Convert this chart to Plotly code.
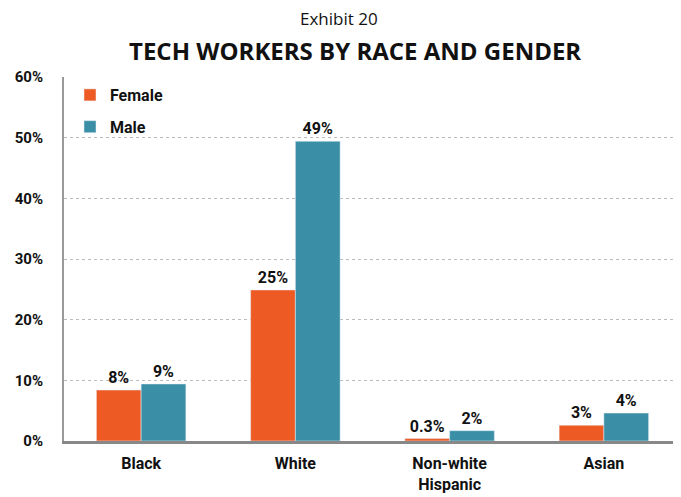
import plotly.graph_objects as go

categories = ["Black", "White", "Non-white<br>Hispanic", "Asian"]
female = [8.4, 24.9, 0.4, 2.6]
male = [9.4, 49.4, 1.7, 4.6]
female_labels = ["8%", "25%", "0.3%", "3%"]
male_labels = ["9%", "49%", "2%", "4%"]
y_ticks = [0, 10, 20, 30, 40, 50, 60]
y_tick_labels = ["0%", "10%", "20%", "30%", "40%", "50%", "60%"]

FONT = "Liberation Sans Narrow, Arial Narrow, Roboto, sans-serif"
OFF = 8  # page body margin
W, H = 681 - OFF, 497 - OFF
L, R, T, B = 64 - OFF, 0, 77 - OFF, 56

fig = go.Figure()
fig.add_trace(go.Bar(name="<b>Female</b>", x=categories, y=female, text=female_labels,
                     textposition="outside", marker_color="#EE5A24", legendgroup="f",
                     textfont=dict(family=FONT, size=16, color="#111"),
                     cliponaxis=False))
fig.add_trace(go.Bar(name="<b>Male</b>", x=categories, y=male, text=male_labels,
                     textposition="outside", marker_color="#3A8FA6", legendgroup="m",
                     textfont=dict(family=FONT, size=16, color="#111"),
                     cliponaxis=False))
fig.update_traces(texttemplate="<b>%{text}</b>")

plot_h = H - T - B
plot_w = W - L - R
def py(ypx):
    # ypx given in window pixels
    return (H - B - (ypx - OFF)) / plot_h
def px(xpx):
    return ((xpx - OFF) - L) / plot_w

fig.update_layout(
    width=W, height=H,
    paper_bgcolor="white", plot_bgcolor="white",
    margin=dict(l=L, r=R, t=T, b=B, autoexpand=False),
    barmode="group", bargap=0.42, bargroupgap=0,
    showlegend=True,
    legend=dict(x=px(70), y=py(78), xanchor="left", yanchor="top",
                font=dict(family=FONT, size=16, color="#111"),
                tracegroupgap=8, itemwidth=30, bgcolor="rgba(0,0,0,0)"),
    annotations=[
        dict(text="Exhibit 20", x=px(339), y=py(19), xref="paper", yref="paper",
             yanchor="middle", showarrow=False,
             font=dict(family="Open Sans, sans-serif", size=17, color="#111")),
        dict(text="<b>TECH WORKERS BY RACE AND GENDER</b>", x=px(355), y=py(50),
             xref="paper", yref="paper", yanchor="middle", showarrow=False,
             font=dict(family="Open Sans, sans-serif", size=24, color="#111")),
    ],
)

fig.update_yaxes(range=[0, 60], tickvals=y_ticks, ticktext=[f"<b>{t}</b>" for t in y_tick_labels],
                 showgrid=True, gridcolor="#BBBBBB", griddash="dot", gridwidth=1,
                 showline=True, linecolor="#999999", linewidth=2,
                 tickfont=dict(family=FONT, size=15, color="#111"),
                 ticks="", zeroline=False, automargin=False, ticklabelstandoff=16)
fig.update_xaxes(showline=True, linecolor="#888888", linewidth=3,
                 tickvals=categories, ticktext=[f"<b>{c}</b>" for c in categories],
                 tickfont=dict(family=FONT, size=16, color="#111"), ticks="",
                 automargin=False, ticklabelstandoff=6)

fig.write_html("out.html")
